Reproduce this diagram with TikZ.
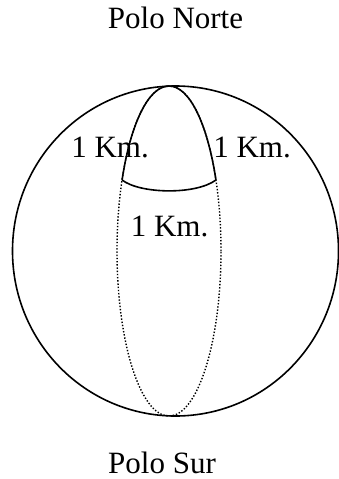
\documentclass[tikz,border=0pt]{standalone}
\usepackage{fontspec}
\setmainfont{Liberation Serif}
\begin{document}
\begin{tikzpicture}[x=1pt,y=1pt,
  lbl/.style={anchor=base,inner sep=0pt,font=\fontsize{31}{37}\selectfont},
  globe/.style={line width=1.6pt},
  lune/.style={line width=1.6pt},
  merid/.style={line width=1.4pt,dash pattern=on 1.4pt off 1.8pt}]
\useasboundingbox (0,0) rectangle (338,-479);
% globe
\draw[globe] (175.5,-251) ellipse [x radius=163pt, y radius=165pt];
% dotted meridian ellipse
\draw[merid] (169,-251) ellipse [x radius=52pt, y radius=165pt];
% lune points
\coordinate (top) at (169,-86);
\path (169,-251) ++(154.5:52pt and 165pt) coordinate (bl);
\path (169,-251) ++(25.5:52pt and 165pt) coordinate (br);
% solid lune edges along the meridian
\draw[lune] (bl) arc[start angle=154.5, end angle=90, x radius=52pt, y radius=165pt];
\draw[lune] (top) arc[start angle=90, end angle=25.5, x radius=52pt, y radius=165pt];
\draw[lune] (bl) .. controls (140,-194) and (196,-195) .. (br);
% labels
\node[lbl] (north) at (175.5,-28) {Polo Norte};
\node[lbl] (south) at (162,-473) {Polo Sur};
\node[lbl] (kml) at (110,-157) {1 Km.};
\node[lbl] (kmr) at (252,-157) {1 Km.};
\node[lbl] (kmm) at (169.5,-236) {1 Km.};
\end{tikzpicture}
\end{document}
